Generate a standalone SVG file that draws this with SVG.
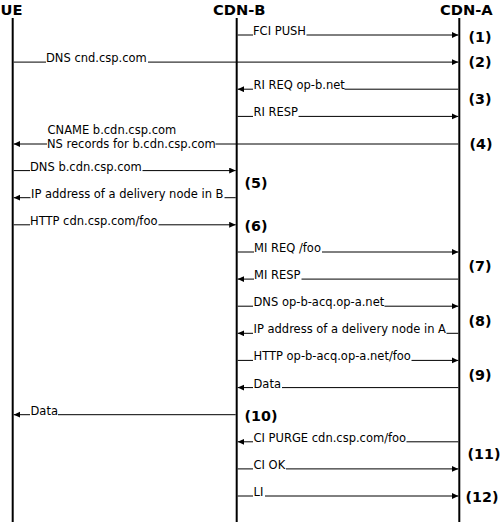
<svg xmlns="http://www.w3.org/2000/svg" width="500" height="524" viewBox="0 0 500 524">
<style>
.life{stroke:#000;stroke-width:2;fill:none}
.hdr{font-family:"DejaVu Sans",sans-serif;font-weight:bold;font-size:14.7px;fill:#000}
.msg{stroke:#000;stroke-width:1;fill:none}
.arr{marker-end:url(#ah)}
.lbl{font-family:"DejaVu Sans",sans-serif;font-size:11.5px;fill:#000}
.num{font-family:"DejaVu Sans",sans-serif;font-weight:bold;font-size:14.3px;fill:#000}
</style>
<defs>
<marker id="ah" markerUnits="userSpaceOnUse" markerWidth="8" markerHeight="7" refX="6.5" refY="3" orient="auto">
<path d="M0,0 L6.5,3 L0,6 z" fill="#000"/>
</marker>
</defs>
<rect width="500" height="524" fill="#fff"/>
<g id="UE">
<line class="life" x1="12.7" y1="18" x2="12.7" y2="522"/>
<text class="hdr" x="11.5" y="15" text-anchor="middle">UE</text>
</g>
<g id="CDN-B">
<line class="life" x1="236.7" y1="18" x2="236.7" y2="522"/>
<text class="hdr" x="213" y="15">CDN-B</text>
</g>
<g id="CDN-A">
<line class="life" x1="459.3" y1="18" x2="459.3" y2="522"/>
<text class="hdr" x="440" y="15">CDN-A</text>
</g>
<g id="connectors">
<line class="msg" x1="237.7" y1="35" x2="253" y2="35"/><line class="msg arr" x1="306.5" y1="35" x2="458.3" y2="35"/>
<text class="lbl" x="253" y="35">FCI PUSH</text>

<line class="msg" x1="13.7" y1="62.1" x2="46" y2="62.1"/><line class="msg arr" x1="148" y1="62.1" x2="458.3" y2="62.1"/>
<text class="lbl" x="46" y="62.1">DNS cnd.csp.com</text>

<line class="msg" x1="458.3" y1="89.2" x2="344.5" y2="89.2"/><line class="msg arr" x1="253" y1="89.2" x2="237.7" y2="89.2"/>
<text class="lbl" x="253.5" y="89.2">RI REQ op-b.net</text>

<line class="msg" x1="237.7" y1="116.4" x2="253" y2="116.4"/><line class="msg arr" x1="298.5" y1="116.4" x2="458.3" y2="116.4"/>
<text class="lbl" x="253.5" y="116.4">RI RESP</text>

<line class="msg" x1="458.3" y1="144" x2="215.5" y2="144"/><line class="msg arr" x1="47" y1="144" x2="13.7" y2="144"/>
<text class="lbl" x="47.5" y="134">CNAME b.cdn.csp.com</text>
<text class="lbl" x="47" y="147.5">NS records for b.cdn.csp.com</text>

<line class="msg" x1="13.7" y1="170.6" x2="30" y2="170.6"/><line class="msg arr" x1="142.5" y1="170.6" x2="235.7" y2="170.6"/>
<text class="lbl" x="30" y="170.6">DNS b.cdn.csp.com</text>

<line class="msg" x1="235.7" y1="197.7" x2="224.5" y2="197.7"/><line class="msg arr" x1="30.5" y1="197.7" x2="13.7" y2="197.7"/>
<text class="lbl" x="31" y="197.7">IP address of a delivery node in B</text>

<line class="msg" x1="13.7" y1="224.8" x2="30" y2="224.8"/><line class="msg arr" x1="158.5" y1="224.8" x2="235.7" y2="224.8"/>
<text class="lbl" x="30" y="224.8">HTTP cdn.csp.com/foo</text>

<line class="msg" x1="237.7" y1="252" x2="254" y2="252"/><line class="msg arr" x1="322" y1="252" x2="458.3" y2="252"/>
<text class="lbl" x="254" y="252">MI REQ /foo</text>

<line class="msg" x1="458.3" y1="279.1" x2="301.5" y2="279.1"/><line class="msg arr" x1="254" y1="279.1" x2="237.7" y2="279.1"/>
<text class="lbl" x="254" y="279.1">MI RESP</text>

<line class="msg" x1="237.7" y1="306.2" x2="253" y2="306.2"/><line class="msg arr" x1="384.5" y1="306.2" x2="458.3" y2="306.2"/>
<text class="lbl" x="253.5" y="306.2">DNS op-b-acq.op-a.net</text>

<line class="msg" x1="458.3" y1="333.3" x2="446.5" y2="333.3"/><line class="msg arr" x1="253" y1="333.3" x2="237.7" y2="333.3"/>
<text class="lbl" x="253.5" y="333.3">IP address of a delivery node in A</text>

<line class="msg" x1="237.7" y1="360.4" x2="253" y2="360.4"/><line class="msg arr" x1="411.5" y1="360.4" x2="458.3" y2="360.4"/>
<text class="lbl" x="253.5" y="360.4">HTTP op-b-acq.op-a.net/foo</text>

<line class="msg" x1="458.3" y1="387.6" x2="282" y2="387.6"/><line class="msg arr" x1="253" y1="387.6" x2="237.7" y2="387.6"/>
<text class="lbl" x="253.5" y="387.6">Data</text>

<line class="msg" x1="235.7" y1="414.7" x2="58" y2="414.7"/><line class="msg arr" x1="30" y1="414.7" x2="13.7" y2="414.7"/>
<text class="lbl" x="30.5" y="414.7">Data</text>

<line class="msg" x1="458.3" y1="441.8" x2="406.5" y2="441.8"/><line class="msg arr" x1="253" y1="441.8" x2="237.7" y2="441.8"/>
<text class="lbl" x="253.5" y="441.8">CI PURGE cdn.csp.com/foo</text>

<line class="msg" x1="237.7" y1="468.9" x2="253" y2="468.9"/><line class="msg arr" x1="286" y1="468.9" x2="458.3" y2="468.9"/>
<text class="lbl" x="253.5" y="468.9">CI OK</text>

<line class="msg" x1="237.7" y1="496" x2="253" y2="496"/><line class="msg arr" x1="265" y1="496" x2="458.3" y2="496"/>
<text class="lbl" x="253.5" y="496">LI</text>
</g>
<g id="steps">
<text class="num" x="468.5" y="41.8">(1)</text>
<text class="num" x="468.5" y="67.3">(2)</text>
<text class="num" x="468.5" y="103.8">(3)</text>
<text class="num" x="469.5" y="148.8">(4)</text>
<text class="num" x="244.5" y="188.3">(5)</text>
<text class="num" x="244.5" y="230.8">(6)</text>
<text class="num" x="468.5" y="271.3">(7)</text>
<text class="num" x="468.5" y="326.3">(8)</text>
<text class="num" x="468.5" y="379.8">(9)</text>
<text class="num" x="244.5" y="420.8">(10)</text>
<text class="num" x="467.5" y="458.8">(11)</text>
<text class="num" x="465.5" y="502.3">(12)</text>
</g>
</svg>
